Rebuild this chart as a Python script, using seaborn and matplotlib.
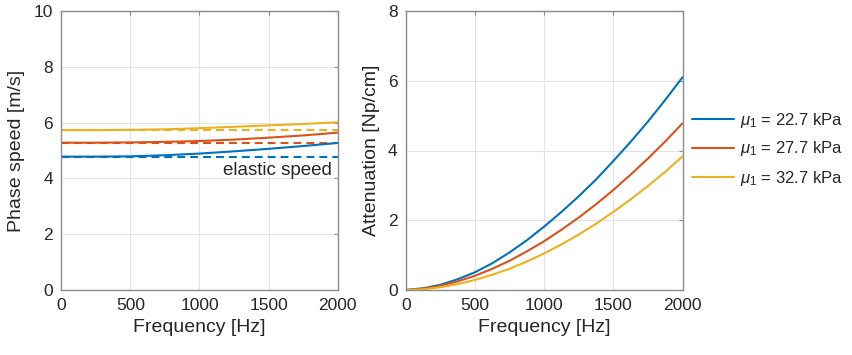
import numpy as np
import pandas as pd
import matplotlib
matplotlib.use("Agg")
import matplotlib.pyplot as plt
import seaborn as sns

# Frequency grids [Hz]
freq_speed = [0, 250, 500, 750, 1000, 1250, 1500, 1750, 2000]
freq_att = [0, 125, 250, 375, 500, 625, 750, 875, 1000,
            1125, 1250, 1375, 1500, 1625, 1750, 1875, 2000]

labels = [r"$\mu_1$ = 22.7 kPa", r"$\mu_1$ = 27.7 kPa", r"$\mu_1$ = 32.7 kPa"]
colors = ["#0072BD", "#D95319", "#EDB120"]

# Phase speed [m/s]
speed_22 = [4.78, 4.78, 4.79, 4.83, 4.89, 4.97, 5.06, 5.16, 5.27]
speed_27 = [5.28, 5.28, 5.29, 5.31, 5.34, 5.39, 5.46, 5.54, 5.64]
speed_32 = [5.73, 5.73, 5.74, 5.76, 5.80, 5.85, 5.90, 5.95, 6.01]

# Elastic (frequency-independent) speed [m/s]
elastic_speed = [4.78, 5.28, 5.73]

# Attenuation [Np/cm]
att_22 = [0.00, 0.05, 0.15, 0.31, 0.51, 0.77, 1.08, 1.43, 1.82,
          2.24, 2.69, 3.17, 3.70, 4.25, 4.83, 5.45, 6.10]
att_27 = [0.00, 0.04, 0.12, 0.25, 0.41, 0.61, 0.84, 1.11, 1.40,
          1.73, 2.08, 2.46, 2.87, 3.31, 3.77, 4.26, 4.78]
att_32 = [0.00, 0.02, 0.08, 0.17, 0.29, 0.44, 0.61, 0.82, 1.05,
          1.31, 1.59, 1.90, 2.24, 2.60, 2.98, 3.39, 3.83]

speed_df = pd.DataFrame({
    "f": freq_speed * 3,
    "v": speed_22 + speed_27 + speed_32,
    "mu": sum([[l] * len(freq_speed) for l in labels], []),
})
att_df = pd.DataFrame({
    "f": freq_att * 3,
    "a": att_22 + att_27 + att_32,
    "mu": sum([[l] * len(freq_att) for l in labels], []),
})
elastic_df = pd.DataFrame({
    "f": [0, 2000] * 3,
    "v": [v for v in elastic_speed for _ in range(2)],
    "mu": [l for l in labels for _ in range(2)],
})

sns.set_theme(style="whitegrid")
plt.rcParams.update({
    "font.family": ["Liberation Sans", "DejaVu Sans"],
    "mathtext.fontset": "custom",
    "mathtext.it": "Liberation Sans:italic",
    "mathtext.rm": "Liberation Sans",
    "text.color": "#262626",
    "axes.labelcolor": "#262626",
    "xtick.color": "#262626",
    "ytick.color": "#262626",
})

palette = dict(zip(labels, colors))

fig = plt.figure(figsize=(8.52, 3.55), dpi=100)
ax1 = fig.add_axes([61.3 / 852, 1 - 290 / 355, (337.7 - 61.3) / 852, 279 / 355])
ax2 = fig.add_axes([406 / 852, 1 - 290 / 355, (682.5 - 406) / 852, 279 / 355])

sns.lineplot(data=elastic_df, x="f", y="v", hue="mu", palette=palette,
             ax=ax1, linewidth=1.5, legend=False, dashes=False)
for line in ax1.get_lines():
    line.set_dashes((3.8, 2.4))
sns.lineplot(data=speed_df, x="f", y="v", hue="mu", palette=palette,
             ax=ax1, linewidth=1.5, legend=False)
sns.lineplot(data=att_df, x="f", y="a", hue="mu", palette=palette,
             ax=ax2, linewidth=1.5, legend=True)

ax1.text(1955, 4.3, "elastic speed", ha="right", va="center", fontsize=13.5)

ax1.set_xlim(0, 2000)
ax1.set_ylim(0, 10)
ax1.set_yticks([0, 2, 4, 6, 8, 10])
ax2.set_xlim(0, 2000)
ax2.set_ylim(0, 8)
ax2.set_yticks([0, 2, 4, 6, 8])

ax1.set_xlabel("Frequency [Hz]", fontsize=14)
ax1.set_ylabel("Phase speed [m/s]", fontsize=14)
ax2.set_xlabel("Frequency [Hz]", fontsize=14)
ax2.set_ylabel("Attenuation [Np/cm]", fontsize=14)

for ax in (ax1, ax2):
    ax.set_xticks([0, 500, 1000, 1500, 2000])
    ax.grid(True, color="#e3e3e3", linewidth=0.8)
    ax.tick_params(axis="both", which="both", direction="in", length=3,
                   width=0.8, labelsize=12.5, top=True, right=True,
                   color="#8c8c8c")
    ax.tick_params(axis="x", pad=6)
    ax.tick_params(axis="y", pad=6)
    for sp in ax.spines.values():
        sp.set_color("#8c8c8c")
        sp.set_linewidth(1.0)
    ax.xaxis.labelpad = 4
    ax.yaxis.labelpad = 6

leg = ax2.legend(loc="center left", bbox_to_anchor=(692 / 852, 1 - 149 / 355),
                 bbox_transform=fig.transFigure, frameon=False, fontsize=12,
                 handlelength=2.5, handletextpad=0.35, labelspacing=0.6,
                 borderaxespad=0, borderpad=0)
for h in leg.get_lines():
    h.set_linewidth(1.5)

fig.savefig("out.png", dpi=100)
